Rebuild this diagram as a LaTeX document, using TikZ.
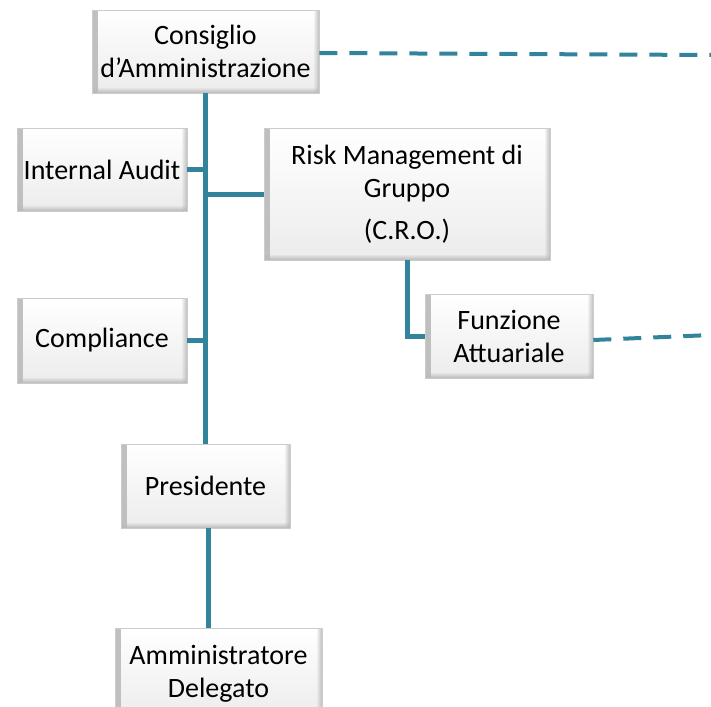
\documentclass[tikz,border=0pt]{standalone}
\usepackage{fontspec}
\setmainfont{Carlito}
\usetikzlibrary{fadings}
\definecolor{teal1}{HTML}{31849B}
\begin{document}
\begin{tikzpicture}[x=1pt,y=-1pt,
  box/.style={rectangle, inner sep=0pt, draw=gray!40, line width=0.6pt,
    top color=white, bottom color=gray!15, align=center,
    font=\fontsize{28}{33}\selectfont,
    path picture={
      \fill[gray!50, path fading=east] (path picture bounding box.south west) rectangle ([xshift=6pt]path picture bounding box.north west);
      \fill[gray!50, path fading=west] (path picture bounding box.south east) rectangle ([xshift=-6pt]path picture bounding box.north east);
      \fill[gray!55, path fading=north] (path picture bounding box.south west) rectangle ([yshift=6pt]path picture bounding box.south east);
    }},
  conn/.style={draw=teal1, line width=5pt},
  dconn/.style={draw=teal1, line width=4pt, dash pattern=on 18pt off 12pt}]
\useasboundingbox (0,0) rectangle (711,706);

\node[box, minimum width=227pt, minimum height=83pt] (cda) at (205.5,51.5) {Consiglio\\d’Amministrazione};
\node[box, minimum width=170pt, minimum height=83pt] (ia) at (102,169.5) {Internal Audit};
\node[box, minimum width=286pt, minimum height=132pt] (rm) at (407,194) {Risk Management di\\Gruppo\\[9pt](C.R.O.)};
\node[box, minimum width=168pt, minimum height=84pt] (fa) at (509,336) {Funzione\\Attuariale};
\node[box, minimum width=170pt, minimum height=85pt] (co) at (102,340.5) {Compliance};
\node[box, minimum width=169pt, minimum height=84pt] (pr) at (205.5,486) {Presidente};
\node[box, minimum width=207pt, minimum height=92pt] (ad) at (218.5,674) {Amministratore\\Delegato};

\coordinate (e1) at (711,55);
\coordinate (e2) at (711,335);

\draw[conn] (cda.south) -- (cda.south |- pr.north);
\draw[conn] (ia.east) -- (ia.east -| cda.south);
\draw[conn] (rm.west) -- (rm.west -| cda.south);
\draw[conn] (co.east) -- (co.east -| cda.south);
\draw[conn] (rm.south) |- (fa.west);
\draw[conn] ([xshift=3pt]pr.south) -- ([xshift=3pt]pr.south |- ad.north);
\draw[dconn] ([yshift=-1.5pt]cda.east) -- (e1);
\draw[dconn] ([yshift=-4pt]fa.east) -- (e2);
\end{tikzpicture}
\end{document}
